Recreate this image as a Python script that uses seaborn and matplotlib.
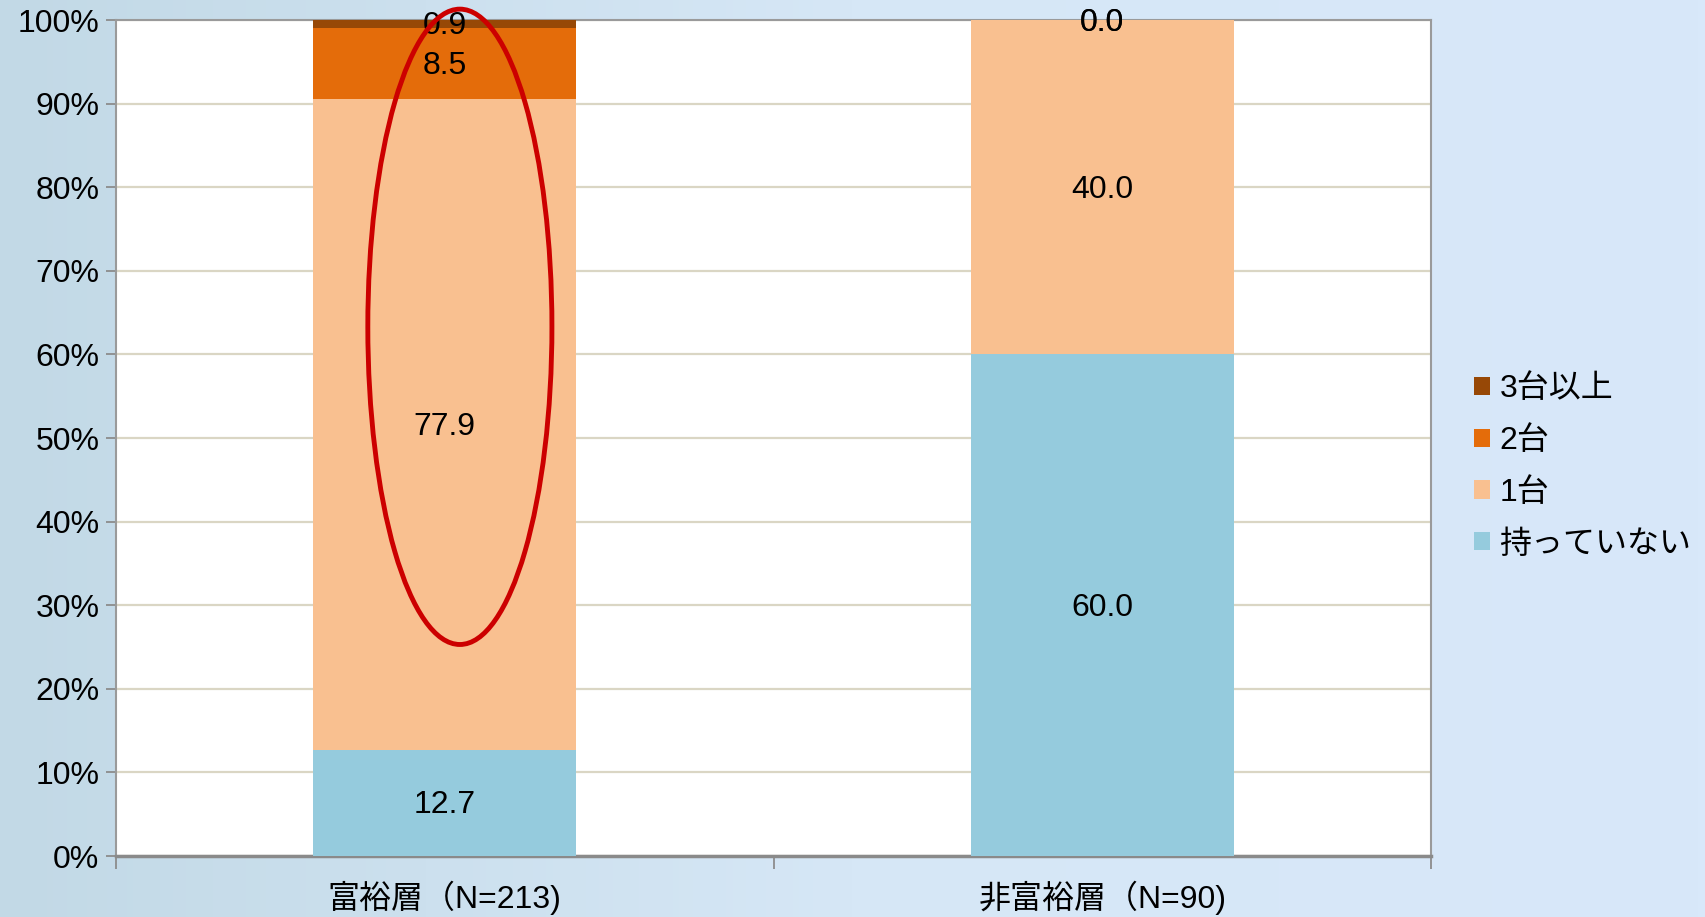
import numpy as np
import pandas as pd
import matplotlib.pyplot as plt
import seaborn as sns
from matplotlib.patches import Ellipse, Patch
from matplotlib.ticker import FuncFormatter

groups = ['富裕層（N=213)', '非富裕層（N=90)']
series = ['持っていない', '1台', '2台', '3台以上']
none_ = [12.7, 60.0]
one = [77.9, 40.0]
two = [8.5, 0.0]
three_plus = [0.9, 0.0]
colors = ['#95cbdd', '#f9c090', '#e46c0a', '#974806']

sns.set_theme(style='white')
plt.rcParams['font.family'] = ['Liberation Sans', 'Noto Sans CJK JP']
plt.rcParams['text.color'] = 'black'
plt.rcParams['xtick.color'] = 'black'
plt.rcParams['ytick.color'] = 'black'

df = pd.DataFrame({'group': groups, '持っていない': none_, '1台': one,
                   '2台': two, '3台以上': three_plus})

fig = plt.figure(figsize=(17.05, 9.17), dpi=100)
# light blue backdrop
bg = fig.add_axes([0, 0, 1, 1], zorder=-10)
grad = np.linspace(0, 1, 256)[None, :]
bg.imshow(grad, aspect='auto', cmap=sns.blend_palette(['#c2d9e6', '#d6e7f6', '#d8e8fa'], as_cmap=True),
          extent=[0, 1, 0, 1])
bg.axis('off')

ax = fig.add_axes([116 / 1705, 1 - 856 / 917, (1431 - 116) / 1705, (856 - 20) / 917])
ax.set_facecolor('white')

# stacked bars: draw cumulative totals from the top layer down
cum = df[series].cumsum(axis=1)
for s, c in reversed(list(zip(series, colors))):
    sns.barplot(x=df['group'], y=cum[s], color=c, width=0.4, ax=ax,
                saturation=1, zorder=3, linewidth=0)

# value labels
for i in range(len(groups)):
    base = 0
    for s in series:
        v = df[s][i]
        y = base + v / 2 if v > 0 else base
        ax.text(i, y - 0.3, f'{v:.1f}', ha='center', va='center',
                fontsize=23, color='black', zorder=5)
        base += v

ax.set_ylim(0, 100)
ax.set_xlim(-0.5, 1.5)
ax.set_yticks(np.arange(0, 101, 10))
ax.yaxis.set_major_formatter(FuncFormatter(lambda v, p: f'{v:.0f}%'))
ax.yaxis.grid(True, color='#dad6c4', lw=1.6, zorder=0)
ax.set_axisbelow(True)
ax.set_xlabel('')
ax.set_ylabel('')

ax.set_xticks([-0.5, 0.5, 1.5])
ax.set_xticklabels([])
ax.set_xticks([0, 1], minor=True)
ax.set_xticklabels(groups, minor=True)
ax.tick_params(axis='x', which='major', direction='out', length=9, width=1.3, color='#8c8c8c')
ax.tick_params(axis='x', which='minor', length=0, pad=18, labelsize=23)
ax.tick_params(axis='y', direction='out', length=7, width=1.3, color='#8c8c8c',
               labelsize=23, pad=5)
ax.tick_params(left=True, bottom=True)
for sp in ax.spines.values():
    sp.set_color('#9a9a9a')
    sp.set_linewidth(1.5)
ax.spines['bottom'].set_linewidth(2.5)
ax.spines['bottom'].set_color('#8a8a8a')

# red highlight ellipse around the first bar
ax.add_patch(Ellipse((0.023, 63.3), 0.28, 76, fill=False, edgecolor='#cc0000',
                     lw=3.5, zorder=6, clip_on=False))

handles = [Patch(facecolor=c, edgecolor='none') for c in reversed(colors)]
fig.legend(handles, list(reversed(series)), loc='center left',
           bbox_to_anchor=(1474 / 1705, 1 - 467 / 917), frameon=False,
           fontsize=23, handlelength=0.5, handleheight=0.5, handletextpad=0.3,
           labelspacing=0.68, borderaxespad=0, borderpad=0)

fig.savefig('out.png', dpi=100)
